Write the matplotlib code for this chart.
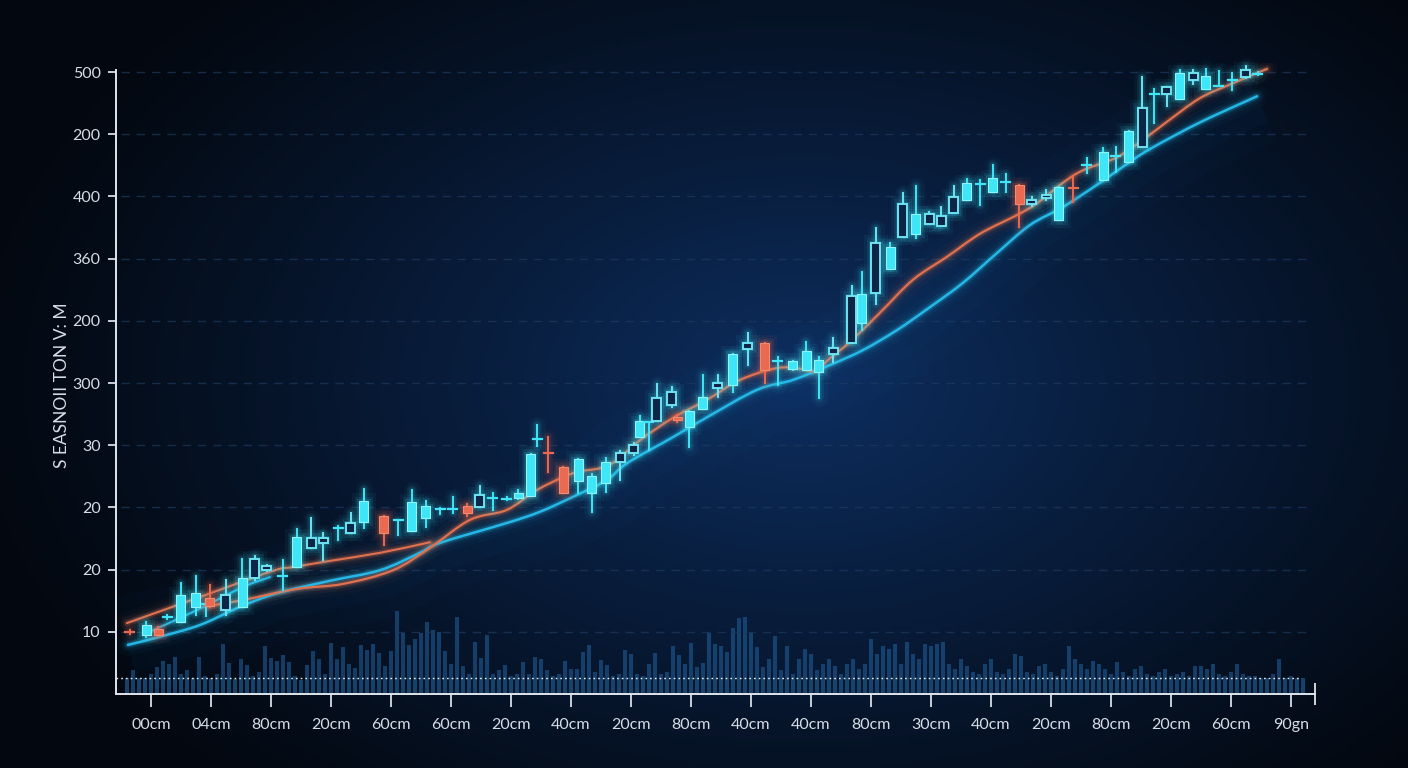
import numpy as np
import matplotlib
matplotlib.use("Agg")
import matplotlib.pyplot as plt
from matplotlib.patches import Rectangle, PathPatch
from matplotlib.path import Path

# ---------------------------------------------------------------------------
# data
# ---------------------------------------------------------------------------
y_ticks = [1, 2, 3, 4, 5, 6, 7, 8, 9, 10]
y_tick_labels = ["10", "20", "20", "30", "300", "200", "360", "400", "200", "500"]
x_ticks = list(range(0, 77, 4))
x_tick_labels = ["00cm", "04cm", "80cm", "20cm", "60cm", "60cm", "20cm", "40cm", "20cm", "80cm",
                 "40cm", "40cm", "80cm", "30cm", "40cm", "20cm", "80cm", "20cm", "60cm", "90gn"]
y_label = "S EASNOII TON V: M"

# candles: x (day), open, high, low, close, kind (u = filled up, h = hollow up, d = down)
candle_x = [-1.4, -0.33, 0.47, 1.1, 2.0, 3.0, 3.67, 3.93, 5.0, 6.07, 6.93, 7.73, 8.8, 9.73,
            10.67, 11.47, 12.47, 13.33, 14.2, 15.53, 16.47, 17.4, 18.33, 19.27, 20.13, 21.07,
            21.93, 22.8, 23.73, 24.47, 25.33, 25.75, 26.47, 27.47, 28.47, 29.4, 30.33, 31.27,
            32.2, 32.6, 33.2, 33.73, 34.73, 35.1, 35.87, 36.8, 37.8, 38.8, 39.8, 40.93, 41.8,
            42.8, 43.67, 44.53, 45.47, 46.73, 47.4, 48.33, 49.27, 50.13, 51.0, 51.87, 52.67,
            53.53, 54.4, 55.27, 56.13, 57.0, 57.87, 58.73, 59.67, 60.53, 61.47, 62.4, 63.47,
            64.33, 65.2, 66.07, 66.87, 67.73, 68.6, 69.47, 70.33, 71.2, 72.07, 73.0, 73.8]
candle_open = [1.01, 0.95, 1.05, 1.22, 1.16, 1.40, 1.43, 1.54, 1.35, 1.40, 1.86, 2.00, 1.88, 2.04,
               2.35, 2.43, 2.66, 2.59, 2.77, 2.86, 2.79, 2.62, 2.83, 2.97, 2.97, 3.02,
               3.01, 3.14, 3.12, 3.15, 3.18, 4.09, 3.88, 3.65, 3.42, 3.23, 3.39, 3.73,
               3.87, 4.13, 4.36, 4.39, 4.65, 4.46, 4.29, 4.58, 4.92, 4.97, 5.55, 5.64, 5.34,
               5.23, 5.21, 5.18, 5.47, 5.64, 5.96, 6.45, 6.83, 7.35, 7.40, 7.56, 7.52,
               7.73, 7.94, 8.19, 8.07, 8.22, 8.18, 7.88, 7.98, 7.62, 8.15, 8.50, 8.26,
               8.64, 8.55, 8.79, 9.64, 9.65, 9.57, 9.87, 9.73, 9.77, 9.86, 9.92, 9.95]
candle_high = [1.03, 1.16, 1.08, 1.27, 1.78, 1.90, 1.48, 1.75, 1.83, 2.17, 2.22, 2.08, 2.15, 2.65,
               2.83, 2.59, 2.70, 2.91, 3.30, 2.86, 2.80, 3.28, 3.10, 2.99, 3.17, 3.05,
               3.34, 3.23, 3.16, 3.28, 3.86, 4.33, 4.13, 3.65, 3.78, 3.54, 3.79, 3.91,
               4.04, 4.47, 4.38, 4.98, 4.94, 4.49, 4.55, 5.13, 5.13, 5.47, 5.80, 5.64, 5.42,
               5.36, 5.66, 5.42, 5.72, 6.56, 6.78, 7.49, 7.25, 8.05, 8.17, 7.75, 7.83,
               8.17, 8.28, 8.26, 8.50, 8.36, 8.18, 7.99, 8.10, 8.15, 8.31, 8.62, 8.78,
               8.79, 9.05, 9.92, 9.73, 9.76, 10.03, 10.03, 10.05, 10.02, 9.98, 10.10, 10.0]
candle_low = [0.96, 0.92, 0.93, 1.21, 1.16, 1.27, 1.25, 1.40, 1.27, 1.40, 1.83, 1.98, 1.67, 2.04,
              2.35, 2.15, 2.48, 2.59, 2.67, 2.40, 2.56, 2.62, 2.68, 2.89, 2.91, 2.86,
              3.01, 2.96, 3.12, 3.14, 3.18, 3.99, 3.57, 3.23, 3.23, 2.93, 3.25, 3.44,
              3.85, 4.13, 3.92, 4.39, 4.62, 4.38, 3.97, 4.58, 4.77, 4.86, 5.29, 5.00, 4.97,
              5.21, 5.21, 4.76, 5.34, 5.64, 5.85, 6.27, 6.83, 7.35, 7.33, 7.56, 7.52,
              7.73, 7.94, 7.86, 8.07, 8.07, 7.51, 7.84, 7.94, 7.62, 7.91, 8.38, 8.26,
              8.39, 8.55, 8.79, 9.18, 9.45, 9.57, 9.81, 9.73, 9.77, 9.71, 9.90, 9.95]
candle_close = [0.98, 1.11, 0.95, 1.24, 1.59, 1.62, 1.45, 1.41, 1.59, 1.86, 2.17, 2.06, 1.91, 2.52,
                2.51, 2.51, 2.68, 2.75, 3.10, 2.59, 2.80, 3.09, 3.02, 2.98, 2.98, 2.91,
                3.20, 3.16, 3.15, 3.23, 3.86, 4.11, 3.86, 3.23, 3.78, 3.50, 3.73, 3.87,
                4.00, 4.39, 4.38, 4.76, 4.86, 4.41, 4.55, 4.77, 5.00, 5.47, 5.64, 5.21, 5.36,
                5.35, 5.51, 5.37, 5.56, 6.40, 6.43, 7.25, 7.19, 7.88, 7.72, 7.72, 7.68,
                7.99, 8.22, 8.21, 8.30, 8.24, 7.88, 7.94, 8.03, 8.15, 8.13, 8.52, 8.71,
                8.66, 9.05, 9.42, 9.66, 9.76, 9.98, 9.98, 9.94, 9.78, 9.88, 10.03, 9.98]
candle_kind = ["d", "u", "d", "u", "u", "u", "u", "d", "h", "u", "h", "h", "u", "u",
               "h", "h", "u", "h", "u", "d", "u", "u", "u", "u", "u", "d",
               "h", "u", "u", "u", "u", "u", "d", "d", "u", "u", "u", "h",
               "h", "u", "u", "h", "h", "d", "u", "u", "h", "u", "h", "d", "u",
               "u", "u", "u", "h", "h", "u", "h", "u", "h", "u", "h", "h",
               "h", "u", "u", "u", "u", "d", "h", "h", "u", "d", "u", "u",
               "u", "u", "h", "u", "h", "u", "h", "u", "u", "u", "h", "u"]

# moving averages
ma_orange_x = [3.73, 6.13, 9.73, 12.8, 16.13, 18.6, 21.27, 23.73, 25.73, 28.13, 29.93, 31.07,
               32.6, 34.8, 37.07, 39.27, 41.73, 43.27, 44.27, 45.27, 46.6, 48.6, 50.8, 53.07,
               55.27, 57.73, 59.07, 60.8, 62.13, 64.4, 66.13, 67.73, 69.93, 72.13, 74.4]
ma_orange_y = [1.41, 1.51, 1.69, 1.77, 1.99, 2.35, 2.80, 2.96, 3.28, 3.55, 3.63, 3.76,
               4.08, 4.44, 4.73, 5.05, 5.24, 5.23, 5.19, 5.40, 5.66, 6.13, 6.66, 7.03,
               7.40, 7.70, 7.89, 8.22, 8.42, 8.63, 8.91, 9.20, 9.58, 9.82, 10.05]
ma_orange2_x = [-1.6, 3.27, 8.13, 9.47, 11.93, 15.27, 18.6]
ma_orange2_y = [1.14, 1.56, 1.98, 2.04, 2.14, 2.27, 2.44]
ma_cyan_x = [-1.53, 0.6, 3.27, 5.93, 8.4, 11.93, 15.27, 17.93, 19.27, 23.73, 25.93, 28.4,
             30.4, 31.73, 34.8, 37.07, 40.4, 42.8, 45.27, 47.47, 49.73, 51.93, 54.13,
             56.4, 58.6, 60.8, 63.27, 65.47, 66.8, 69.93, 73.73]
ma_cyan_y = [0.79, 0.92, 1.11, 1.40, 1.62, 1.82, 1.99, 2.27, 2.43, 2.75, 2.93, 3.20,
             3.44, 3.71, 4.13, 4.45, 4.89, 5.05, 5.29, 5.53, 5.85, 6.22, 6.61,
             7.09, 7.54, 7.83, 8.22, 8.59, 8.79, 9.19, 9.61]
ma_cyan2_x = [-0.27, 3.07, 6.13, 7.93]
ma_cyan2_y = [0.98, 1.35, 1.72, 1.88]

# volume (one bar every 0.4 day starting at day -1.6)
volume = [16, 24, 16, 16, 20, 27, 33, 30, 37, 20, 24, 16, 37, 18, 16, 20, 50, 31, 15, 35,
          29, 18, 22, 48, 36, 33, 39, 32, 18, 14, 29, 43, 35, 20, 51, 35, 47, 30, 26, 49,
          44, 50, 41, 28, 43, 83, 61, 49, 55, 61, 72, 64, 62, 43, 30, 77, 28, 20, 52, 36,
          59, 20, 24, 29, 18, 20, 32, 20, 37, 35, 24, 18, 20, 33, 25, 25, 42, 49, 22, 34,
          29, 18, 20, 44, 40, 20, 18, 30, 41, 20, 22, 48, 39, 30, 51, 27, 31, 61, 50, 48,
          42, 66, 76, 77, 61, 47, 27, 35, 58, 24, 48, 20, 35, 45, 40, 24, 30, 35, 28, 20,
          30, 35, 25, 30, 55, 40, 48, 45, 50, 30, 52, 40, 35, 50, 48, 50, 52, 30, 25, 35,
          28, 22, 20, 30, 35, 22, 20, 25, 40, 38, 22, 20, 28, 30, 22, 18, 25, 48, 35, 30,
          25, 33, 30, 25, 20, 32, 22, 18, 25, 28, 20, 18, 22, 25, 18, 20, 22, 18, 28, 28,
          25, 30, 20, 18, 22, 30, 20, 18, 18, 16, 16, 20, 35, 16, 18, 16, 16]

# ---------------------------------------------------------------------------
# style
# ---------------------------------------------------------------------------
plt.rcParams["font.family"] = ["Lato", "DejaVu Sans"]
UP = "#3fe6f7"
UP_EDGE = "#8ff6ff"
HOLLOW_EDGE = "#6fe3f2"
DOWN = "#e96a50"
ORANGE = "#e0714f"
CYAN = "#25b7e6"
TEXT = "#d6dde6"

fig = plt.figure(figsize=(14.08, 7.68), dpi=100)

# background: soft radial navy glow
bg = fig.add_axes([0, 0, 1, 1], zorder=-10)
gx, gy = np.meshgrid(np.linspace(0, 1, 400), np.linspace(0, 1, 220))
r = np.sqrt(((gx - 0.57) / 0.60) ** 2 + ((gy - 0.50) / 0.72) ** 2)
t = np.clip(1 - r, 0, 1) ** 1.15
c_out = np.array([3, 8, 16]) / 255
c_in = np.array([13, 46, 96]) / 255
img = c_out + (c_in - c_out) * t[..., None]
bg.imshow(img, extent=[0, 1, 0, 1], aspect="auto", origin="lower")
bg.axis("off")

ax = fig.add_axes([116 / 1408, 74 / 768, 1202 / 1408, 631.3 / 768])
ax.set_facecolor("none")
ax.set_xlim(-2.33, 77.8)
ax.set_ylim(0, 10.15)

# volume on a twin scale
axv = ax.twinx()
axv.set_ylim(0, 631.3)
vol_x = -1.6 + 0.4 * np.arange(len(volume))
axv.bar(vol_x, volume, width=0.27, color="#1f5c95", alpha=0.6, zorder=1)
axv.bar(vol_x, np.minimum(volume, 16), width=0.27, color="#17476f", alpha=0.6, zorder=1)
axv.axis("off")
axv.set_zorder(ax.get_zorder() - 1)
ax.patch.set_visible(False)

# dotted baseline
ax.axhline(0.26, xmin=0, xmax=0.985, color="#e8eef5", lw=1.0, ls=(0, (1.2, 2.2)), zorder=2)

# grid
for yv in y_ticks:
    ax.plot([-2.0, 77.0], [yv, yv], color="#1d3a5e", lw=1.0, ls=(0, (6, 5)), alpha=0.7, zorder=0)


def smooth_path(xs, ys):
    """Catmull-Rom curve through the read points, as cubic Bezier segments."""
    p = np.column_stack([xs, ys]).astype(float)
    pts = np.vstack([p[0] - (p[1] - p[0]), p, p[-1] + (p[-1] - p[-2])])
    verts, codes = [p[0]], [Path.MOVETO]
    for i in range(1, len(pts) - 2):
        c1 = pts[i] + (pts[i + 1] - pts[i - 1]) / 6
        c2 = pts[i + 1] - (pts[i + 2] - pts[i]) / 6
        verts += [c1, c2, pts[i + 1]]
        codes += [Path.CURVE4] * 3
    return Path(verts, codes)


def glow_line(xs, ys, color, lw):
    path = smooth_path(xs, ys)
    for w, a in [(lw + 14, 0.03), (lw + 8, 0.06), (lw + 4, 0.12), (lw + 2, 0.2)]:
        ax.add_patch(PathPatch(path, fill=False, edgecolor=color, lw=w, alpha=a,
                               capstyle="round", zorder=3))
    ax.add_patch(PathPatch(path, fill=False, edgecolor=color, lw=lw, capstyle="round", zorder=4))


# broad halo behind the trend
halo = smooth_path(ma_cyan_x, ma_cyan_y)
for w, a in [(70, 0.025), (40, 0.03)]:
    ax.add_patch(PathPatch(halo, fill=False, edgecolor="#1e7fd0", lw=w, alpha=a, zorder=1))

glow_line(ma_cyan_x, ma_cyan_y, CYAN, 1.8)
glow_line(ma_cyan2_x, ma_cyan2_y, CYAN, 1.5)
glow_line(ma_orange2_x, ma_orange2_y, ORANGE, 1.5)
glow_line(ma_orange_x, ma_orange_y, ORANGE, 1.6)

# candles
bw = 0.6
for x, o, h, l, c, k in zip(candle_x, candle_open, candle_high, candle_low, candle_close, candle_kind):
    col = DOWN if k == "d" else UP
    lo_b, hi_b = min(o, c), max(o, c)
    for w, a in [(12, 0.04), (7, 0.08), (4, 0.12)]:
        ax.plot([x, x], [l, h], color=col, lw=w, alpha=a, solid_capstyle="round", zorder=5, clip_on=False)
    ax.plot([x, x], [l, h], color=col if k != "h" else HOLLOW_EDGE, lw=1.4, zorder=6, clip_on=False)
    if hi_b - lo_b < 0.04:
        ax.plot([x - bw / 2, x + bw / 2], [(o + c) / 2] * 2, color=col, lw=1.6, zorder=7, clip_on=False)
        continue
    for pad, a in [(0.5, 0.05), (0.3, 0.08), (0.15, 0.14)]:
        ax.add_patch(Rectangle((x - bw / 2 - pad, lo_b - pad * 0.25), bw + 2 * pad, hi_b - lo_b + pad * 0.5,
                               facecolor=col, edgecolor="none", alpha=a, zorder=5, clip_on=False))
    if k == "h":
        ax.add_patch(Rectangle((x - bw / 2, lo_b), bw, hi_b - lo_b, facecolor="#0b2646",
                               edgecolor=HOLLOW_EDGE, lw=1.4, zorder=7, clip_on=False))
    else:
        ax.add_patch(Rectangle((x - bw / 2, lo_b), bw, hi_b - lo_b, facecolor=col,
                               edgecolor=UP_EDGE if k == "u" else "#f08a70", lw=0.8, zorder=7, clip_on=False))

# axes styling
for side in ["top", "right"]:
    ax.spines[side].set_visible(False)
for side in ["left", "bottom"]:
    ax.spines[side].set_color("#dfe5ec")
    ax.spines[side].set_linewidth(1.4)
ax.spines["left"].set_bounds(0, 10.03)
ax.spines["bottom"].set_bounds(-2.33, 77.6)

ax.set_yticks(y_ticks)
ax.set_yticklabels(y_tick_labels)
ax.set_xticks(x_ticks)
ax.set_xticklabels(x_tick_labels)
ax.set_xticks([77.6], minor=True)
ax.tick_params(axis="y", colors=TEXT, labelsize=11.5, length=6, width=1.3, pad=5)
ax.tick_params(axis="x", which="major", colors=TEXT, labelsize=11.5, length=9, width=1.3, pad=8)
ax.tick_params(axis="x", which="minor", colors="#dfe5ec", length=16, width=1.3, direction="inout")

fig.text(0.044, 0.499, y_label, rotation=90, color=TEXT, fontsize=12.5, ha="center", va="center")

fig.savefig("out.png", dpi=100)
